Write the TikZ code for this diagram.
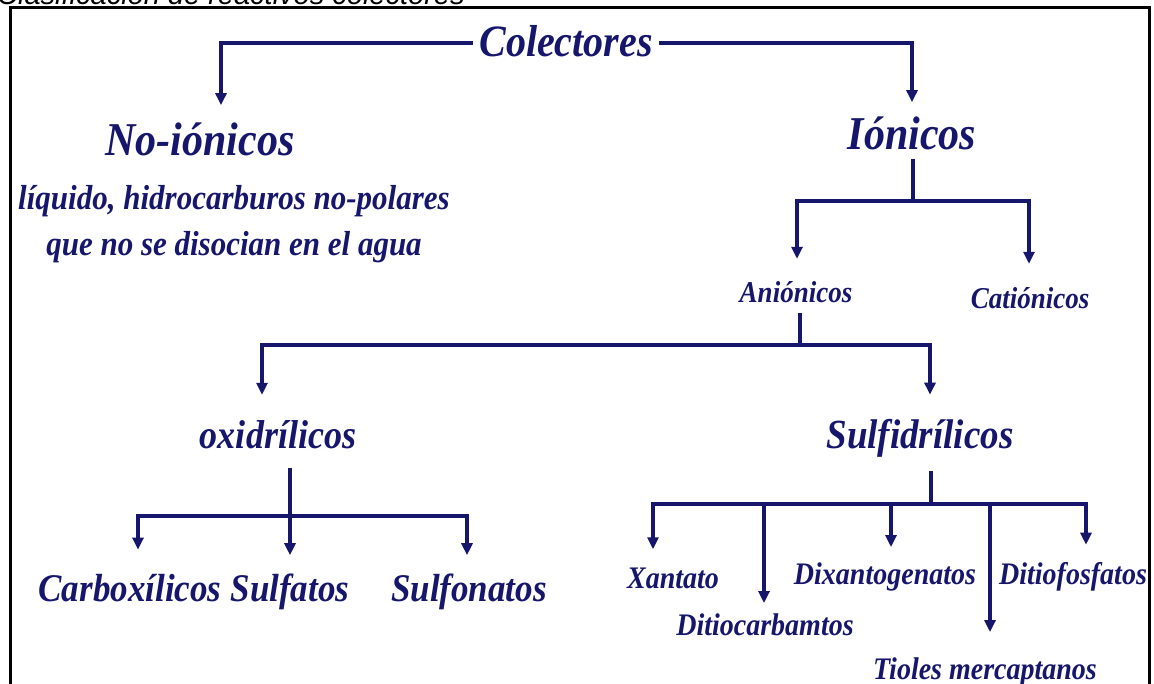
\documentclass[tikz,border=0pt]{standalone}
\usepackage{fontspec}
\usepackage{graphicx}
\setmainfont{Liberation Serif}
\newfontfamily\capfont{Liberation Sans}
\usetikzlibrary{arrows.meta}
\definecolor{navy}{RGB}{22,22,108}
\newcommand{\fs}[1]{\fontsize{#1}{#1}\selectfont}
\newcommand{\tall}[1]{\scalebox{1}[1.12]{#1}}
\begin{document}
\begin{tikzpicture}[x=1pt,y=-1pt,
  lbl/.style={text=navy, font=\bfseries\itshape, inner sep=0pt, anchor=base},
  ln/.style={draw=navy, line width=4pt},
  arr/.style={ln, -{Triangle[width=11pt,length=12pt]}},
]
\useasboundingbox (0,0) rectangle (1154,684);
\fill[white] (0,0) rectangle (1154,684);
\begin{scope}
  \clip (0,0) rectangle (1154,684);
  % caption above the frame (cut by the page edge)
  \node[font=\capfont\itshape\fs{29}, anchor=base west, inner sep=0pt] (cap) at (-3,5) {Clasificación de reactivos colectores};
  % frame
  \draw[line width=3pt] (10,700) -- (10,8) -- (1149,8) -- (1149,700);
\end{scope}

% labels
\node[lbl, font=\bfseries\itshape\fs{40}] (col) at (566,57) {\tall{Colectores}};
\node[lbl, font=\bfseries\itshape\fs{42}] (noion) at (200,156) {\tall{No-iónicos}};
\node[lbl, font=\bfseries\itshape\fs{31}] (d1) at (234,210) {\tall{líquido, hidrocarburos no-polares}};
\node[lbl, font=\bfseries\itshape\fs{31}] (d2) at (234,256) {\tall{que no se disocian en el agua}};
\node[lbl, font=\bfseries\itshape\fs{42}] (ion) at (912,150) {\tall{Iónicos}};
\node[lbl, font=\bfseries\itshape\fs{27}] (anion) at (796,303) {\tall{Aniónicos}};
\node[lbl, font=\bfseries\itshape\fs{27}] (cation) at (1030,309) {\tall{Catiónicos}};
\node[lbl, font=\bfseries\itshape\fs{36}] (oxi) at (278,448) {\tall{oxidrílicos}};
\node[lbl, font=\bfseries\itshape\fs{37}] (sulfi) at (920,448) {\tall{Sulfidrílicos}};
\node[lbl, font=\bfseries\itshape\fs{35}] (carb) at (130,601) {\tall{Carboxílicos}};
\node[lbl, font=\bfseries\itshape\fs{35}] (sulfa) at (290,601) {\tall{Sulfatos}};
\node[lbl, font=\bfseries\itshape\fs{35}] (sulfo) at (469,601) {\tall{Sulfonatos}};
\node[lbl, font=\bfseries\itshape\fs{28}] (xan) at (673,588) {\tall{Xantato}};
\node[lbl, font=\bfseries\itshape\fs{28}] (ditc) at (765,635) {\tall{Ditiocarbamtos}};
\node[lbl, font=\bfseries\itshape\fs{28}] (dixa) at (885,584) {\tall{Dixantogenatos}};
\node[lbl, font=\bfseries\itshape\fs{28}] (tiol) at (985,679) {\tall{Tioles mercaptanos}};
\node[lbl, font=\bfseries\itshape\fs{28}] (ditf) at (1073,584) {\tall{Ditiofosfatos}};

% Colectores -> No-ionicos / Ionicos
\draw[arr, shorten <=6pt, shorten >=18pt] ([yshift=-1pt]col.west) -| ([xshift=21pt]noion.north);
\draw[arr, shorten <=6pt, shorten >=15pt] ([yshift=-1pt]col.east) -| (ion.north);

% Ionicos -> Anionicos / Cationicos
\draw[ln, shorten <=8pt] ([xshift=1pt]ion.south) -- ++(0,50) coordinate (bi);
\draw[arr, shorten >=23pt] ([xshift=-2pt]bi) -| ([xshift=1pt]anion.north);
\draw[arr, shorten >=24pt] ([xshift=-2pt]bi) -| ([xshift=-1pt]cation.north);

% Anionicos -> oxidrilicos / Sulfidrilicos
\draw[ln, shorten <=10pt] ([xshift=4pt]anion.south) -- ++(0,42) coordinate (ba);
\draw[arr, shorten >=25pt] ([xshift=-2pt]ba) -| ([xshift=-16pt]oxi.north);
\draw[arr, shorten >=24pt] ([xshift=-2pt]ba) -| ([xshift=10pt]sulfi.north);

% oxidrilicos -> Carboxilicos / Sulfatos / Sulfonatos
\draw[ln, shorten <=19pt] ([xshift=12pt]oxi.south) -- ++(0,67) coordinate (bo);
\draw[arr, shorten >=24pt] (bo) -| ([xshift=8pt]carb.north);
\draw[arr, shorten >=18pt] (bo) -- (sulfa.north);
\draw[arr, shorten >=18pt] (bo) -| ([xshift=-2pt]sulfo.north);

% Sulfidrilicos -> Xantato ... Ditiofosfatos
\draw[ln, shorten <=14pt] ([xshift=11pt]sulfi.south) -- ++(0,47) coordinate (bs);
\draw[arr, shorten >=18pt] (bs) -| ([xshift=-20pt]xan.north);
\draw[arr, shorten >=10pt] (bs) -| ([xshift=-1pt]ditc.north);
\draw[arr, shorten >=15pt] (bs) -| ([xshift=6pt]dixa.north);
\draw[arr, shorten >=25pt] (bs) -| ([xshift=5pt]tiol.north);
\draw[arr, shorten >=17pt] (bs) -| ([xshift=13pt]ditf.north);
\end{tikzpicture}
\end{document}
